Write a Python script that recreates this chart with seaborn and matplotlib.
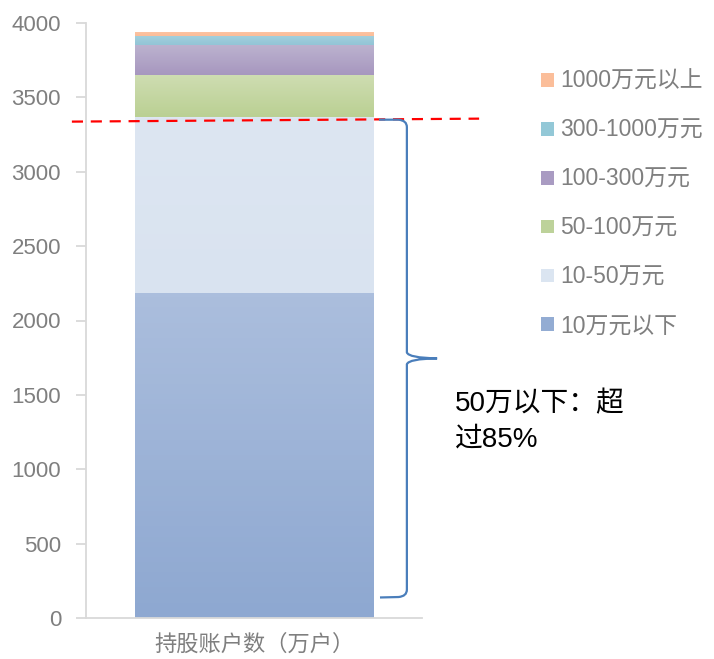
import numpy as np
import matplotlib.pyplot as plt
import matplotlib.colors as mcolors
from matplotlib.patches import Patch, PathPatch
from matplotlib.path import Path
import matplotlib.transforms as mtransforms
import seaborn as sns

category = '持股账户数（万户）'
groups = ['10万元以下', '10-50万元', '50-100万元', '100-300万元', '300-1000万元', '1000万元以上']
accounts = [2185, 1180, 285, 202, 63, 25]
# gradient colours of each segment: (top, bottom)
grad = [('#abbedd', '#8ea8d1'), ('#dde6f2', '#d9e3f0'), ('#cfddb2', '#bad093'),
        ('#bcb3cf', '#a797bf'), ('#a3d0dd', '#93c5d6'), ('#fcc3a2', '#fbbd98')]
legend_colors = ['#93acd3', '#dbe5f1', '#bdd29a', '#a99bc2', '#93c8d7', '#fbbe9a']
note = '50万以下：超\n过85%'

sns.set_style('white')
plt.rcParams['font.family'] = ['Liberation Sans', 'Noto Sans CJK SC', 'DejaVu Sans']

fig = plt.figure(figsize=(7.14, 6.59), dpi=100)
ax = fig.add_axes([86/714, 1-618/659, 336/714, 595/659])

bottom = 0
for val, col in zip(accounts, legend_colors):
    sns.barplot(x=[category], y=[val], bottom=bottom, color=col, width=0.71,
                saturation=1, ax=ax, edgecolor='none', linewidth=0)
    bottom += val

# vertical gradient on each segment
for patch, (top, bot) in zip(ax.patches, grad):
    x0, y0 = patch.get_x(), patch.get_y()
    w, h = patch.get_width(), patch.get_height()
    cmap = mcolors.LinearSegmentedColormap.from_list('g', [bot, top])
    img = ax.imshow(np.linspace(0, 1, 64).reshape(-1, 1), cmap=cmap, origin='lower',
                    extent=(x0, x0 + w, y0, y0 + h), aspect='auto', zorder=patch.get_zorder())
    img.set_clip_path(patch)

ax.set_xlim(-0.5, 0.5)
ax.set_ylim(0, 4000)
ax.set_yticks(np.arange(0, 4001, 500))
ax.set_ylabel('')
ax.set_xlabel('')
for s in ['top', 'right']:
    ax.spines[s].set_visible(False)
for s in ['left', 'bottom']:
    ax.spines[s].set_color('#d9d9d9')
    ax.spines[s].set_linewidth(1.3)
ax.tick_params(axis='y', direction='out', length=7, width=1.3, color='#d9d9d9',
               labelsize=16, labelcolor='#7f7f7f', pad=11, left=True)
ax.tick_params(axis='x', length=0, labelsize=16, labelcolor='#7f7f7f', pad=12)

# red dashed line at the top of the 10-50万元 segment
cut = accounts[0] + accounts[1]
trans = mtransforms.blended_transform_factory(ax.transAxes, ax.transData)
ax.plot([-0.042, 1.17], [cut - 28, cut - 8], transform=trans, color='#ff0000',
        lw=1.6, ls=(0, (5, 3.5)), clip_on=False, zorder=5)

# curly brace
xv, xt = 0.955, 1.045
ytop, ybot = cut - 15, 141
ymid = (ytop + ybot) / 2
verts = [(0.872, ytop), (0.93, ytop), (xv, ytop - 5), (xv, ytop - 50),
         (xv, ymid + 40), (xv + 0.005, ymid + 3), (xt, ymid),
         (xv + 0.005, ymid - 3), (xv, ymid - 40),
         (xv, ybot + 50), (xv, ybot + 5), (0.93, ybot), (0.875, ybot - 3)]
codes = [Path.MOVETO, Path.LINETO, Path.CURVE3, Path.CURVE3,
         Path.LINETO, Path.CURVE3, Path.CURVE3,
         Path.CURVE3, Path.CURVE3,
         Path.LINETO, Path.CURVE3, Path.CURVE3, Path.LINETO]
ax.add_patch(PathPatch(Path(verts, codes), transform=trans, fill=False,
                       edgecolor='#4a7ebb', lw=1.6, clip_on=False, zorder=6))

fig.text(455/714, 1-391/659, note, fontsize=20, color='black', va='top', ha='left',
         linespacing=1.45)

handles = [Patch(facecolor=c, edgecolor='none') for c in legend_colors]
fig.legend(handles[::-1], groups[::-1], loc='upper left', bbox_to_anchor=(541/714, 1-70/659),
           frameon=False, fontsize=16.5, labelcolor='#7f7f7f', handlelength=0.55,
           handleheight=0.55, handletextpad=0.3, labelspacing=1.13, borderpad=0,
           borderaxespad=0)

fig.savefig('out.png', dpi=100)
